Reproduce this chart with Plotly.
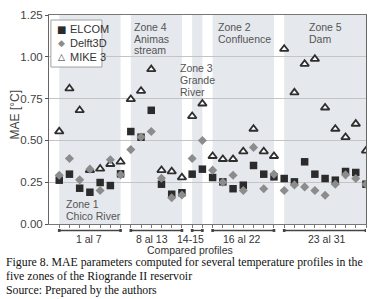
import plotly.graph_objects as go

profiles = list(range(1, 32))
elcom = [0.262, 0.298, 0.214, 0.19, 0.248, 0.23, 0.30,
         0.553, 0.519, 0.68, 0.238, 0.178, 0.187,
         0.298, 0.328,
         0.278, 0.252, 0.211, 0.232, 0.35, 0.298, 0.282,
         0.272, 0.252, 0.372, 0.298, 0.272, 0.262, 0.314, 0.308, 0.238]
delft3d = [0.292, 0.392, 0.264, 0.328, 0.20, 0.384, 0.294,
           0.445, 0.52, 0.553, 0.274, 0.157, 0.173,
           0.392, 0.499,
           0.322, 0.25, 0.292, 0.20, 0.458, 0.211, 0.298,
           0.20, 0.234, 0.222, 0.20, 0.172, 0.238, 0.294, 0.272, 0.238]
mike3 = [0.553, 0.81, 0.68, 0.322, 0.33, 0.358, 0.372,
         0.746, 0.796, 0.925, 0.322, 0.314, 0.278,
         0.645, 0.72,
         0.406, 0.388, 0.388, 0.434, 0.569, 0.434, 0.406,
         1.047, 0.786, 0.957, 0.987, 0.696, 0.569, 0.519, 0.599, 0.438]

zone_start = [1, 8, 14, 16, 23]
zone_end = [7, 13, 15, 22, 31]
zone_range_labels = ["1 al 7", "8 al 13", "14-15", "16 al 22", "23 al 31"]
y_ticks = [0, 0.25, 0.5, 0.75, 1.0, 1.25]
series_names = ["ELCOM", "Delft3D", "MIKE 3"]

SANS = "Liberation Sans, Arial"

fig = go.Figure()
fig.add_trace(go.Scatter(x=profiles, y=elcom, mode="markers", name="ELCOM",
                         marker=dict(symbol="square", size=7.5, color="#2b2b2b")))
fig.add_trace(go.Scatter(x=profiles, y=mike3, mode="markers", name="MIKE 3",
                         marker=dict(symbol="triangle-up", size=7.5, color="white",
                                     line=dict(color="#2e2e2e", width=1.8))))
fig.add_trace(go.Scatter(x=profiles, y=delft3d, mode="markers", name="Delft3D",
                         marker=dict(symbol="diamond", size=7, color="#8c8c8c")))

shapes = []
for s, e in zip(zone_start, zone_end):
    shapes.append(dict(type="rect", xref="x", yref="paper", x0=s, x1=e, y0=0, y1=1,
                       fillcolor="#e5e8ec", line=dict(width=0), layer="below"))
    shapes.append(dict(type="line", xref="x", yref="paper", x0=s, x1=e, y0=-0.031, y1=-0.031,
                       line=dict(color="#444444", width=1.3)))
    for xe in (s, e):
        shapes.append(dict(type="rect", xref="x", yref="paper", x0=xe - 0.13, x1=xe + 0.13,
                           y0=-0.038, y1=-0.024, fillcolor="#444444", line=dict(width=0)))

# compact legend box
shapes.append(dict(type="rect", xref="paper", yref="paper", x0=0.006, x1=0.167,
                   y0=0.751, y1=0.976, fillcolor="white", layer="above",
                   line=dict(color="#a0a0a0", width=1)))


def txt(x, y, text, xref="paper", yref="paper", xanchor="center", size=11,
        color="#333333", family=SANS, **kw):
    return dict(x=x, y=y, xref=xref, yref=yref, text=text, showarrow=False,
                xanchor=xanchor, yanchor="middle", borderpad=0,
                font=dict(size=size, color=color, family=family), **kw)


ann = []
legend_glyphs = [("■", "#2b2b2b", 10), ("◆", "#8c8c8c", 9), ("<b>△</b>", "#2e2e2e", 9)]
for yy, name, (g, c, sz) in zip([0.933, 0.866, 0.799], series_names, legend_glyphs):
    ann.append(txt(0.0379, yy, g, size=sz, color=c, family="DejaVu Sans"))
    ann.append(txt(0.063, yy, name, xanchor="left", size=11))

label_x = [3.92, 10.09, 13.81, 18.9, 27.23]
for lx, lab in zip(label_x, zone_range_labels):
    ann.append(txt(lx, -0.074, lab, xref="x", size=10.5))
ann.append(txt(13.8, -0.124, "Compared profiles", xref="x", size=10.5))

ann.append(txt(-0.107, 0.52, "MAE [°C]", size=12, color="#444444", textangle=-90))

zone_text = [
    (1.57, [0.120, 0.048], ["Zone 1", "Chico River"]),
    (8.23, [1.178, 1.106, 1.041], ["Zone 4", "Animas", "stream"]),
    (12.73, [0.933, 0.861, 0.789], ["Zone 3", "Grande", "River"]),
    (16.45, [1.178, 1.106], ["Zone 2", "Confluence"]),
    (25.32, [1.178, 1.106], ["Zone 5", "Dam"]),
]
for x0, ys, lines in zone_text:
    for yy, t in zip(ys, lines):
        ann.append(txt(x0, yy, t, xref="x", yref="y", xanchor="left", size=10.5, color="#555555"))

caption = ["Figure 8. MAE parameters computed for several temperature profiles in the",
           "five zones of the Riogrande II reservoir",
           "Source: Prepared by the authors"]
for yy, t in zip([-0.184, -0.251, -0.318], caption):
    ann.append(txt(-0.139, yy, t, xanchor="left", size=11.8, color="#111111",
                   family="Liberation Serif, Times New Roman"))

fig.update_layout(
    width=381, height=299,
    margin=dict(l=49, r=15, t=15, b=75),
    paper_bgcolor="white", plot_bgcolor="white",
    showlegend=False,
    shapes=shapes, annotations=ann,
    font=dict(family=SANS, size=11, color="#444444"),
    xaxis=dict(range=[0, 31], tickvals=profiles, showticklabels=False, ticks="outside",
               ticklen=3, tickcolor="#777777", showgrid=False, zeroline=False,
               showline=True, linecolor="#777777", mirror=True, automargin=False),
    yaxis=dict(range=[0, 1.25], tickvals=y_ticks, tickformat=".2f", ticks="outside",
               ticklen=3, tickcolor="#555555", showgrid=True, gridcolor="#c4c4c4",
               zeroline=False, showline=True, linecolor="#666666", mirror=True,
               automargin=False, tickfont=dict(size=11.5, color="#444444")),
)
fig.write_html("out.html", config={"displayModeBar": False},
               post_script="document.body.style.margin='0';document.body.style.overflow='hidden';")
